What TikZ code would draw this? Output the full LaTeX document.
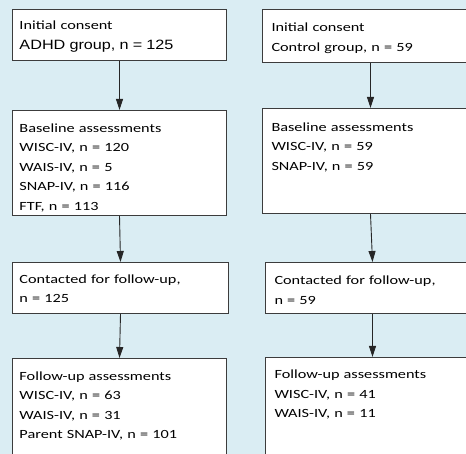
\documentclass[tikz,border=0pt]{standalone}
\usepackage{fontspec}
\setmainfont{Carlito}[FakeStretch=1.3]
\newfontfamily\arialfont{Liberation Sans}[FakeStretch=1.2]
\usetikzlibrary{arrows.meta}
\definecolor{fondoazul}{RGB}{218,237,243}
\definecolor{borde}{RGB}{60,60,60}

\begin{document}
\begin{tikzpicture}[
    x=1pt, y=-1pt,
    every node/.style={font=\fontsize{12.5}{19.5}\selectfont},
    etapa/.style={draw=borde, line width=1pt, fill=white, anchor=north west, align=left, inner ysep=0pt},
    izq/.style={etapa, inner xsep=7pt, text width=200pt},
    der/.style={etapa, inner xsep=9pt, text width=198pt},
    flecha/.style={-{Triangle[length=11pt, width=7pt]}, line width=0.9pt, black!85}
]
\useasboundingbox (0,0) rectangle (466,454);
\clip (0,0) rectangle (466,454);
\fill[fondoazul] (0,0) rectangle (466,454);
% Grupo ADHD
\node[izq, text height=20pt, text depth=31pt] (consentADHD) at (12,9) {Initial consent\\[1pt]{\arialfont\fontsize{13.5}{19.5}\selectfont ADHD group, n = 125}};
\node[izq, text height=22pt, text depth=83pt] (baseADHD) at (12,110) {Baseline assessments\\WISC-IV, n = 120\\WAIS-IV, n = 5\\SNAP-IV, n = 116\\FTF, n = 113};
\node[izq, text width=202pt, text height=21pt, text depth=30pt] (contactADHD) at (12,262) {Contacted for follow-up,\\n = 125};
\node[izq, text height=22pt, text depth=120pt] (followADHD) at (12,358) {Follow-up assessments\\WISC-IV, n = 63\\WAIS-IV, n = 31\\Parent SNAP-IV, n = 101};
% Grupo control
\node[der, text height=22.5pt, text depth=30.5pt] (consentCtrl) at (262,9) {Initial consent\\Control group, n = 59};
\node[der, text height=23pt, text depth=82pt] (baseCtrl) at (262,108) {Baseline assessments\\WISC-IV, n = 59\\SNAP-IV, n = 59};
\node[der, text width=196pt, text height=22.5pt, text depth=28.5pt] (contactCtrl) at (265,262) {Contacted for follow-up,\\n = 59};
\node[der, text width=196pt, text height=21pt, text depth=120pt] (followCtrl) at (265,357) {Follow-up assessments\\WISC-IV, n = 41\\WAIS-IV, n = 11};
% Flechas
\draw[flecha] (consentADHD.south) -- (baseADHD.north);
\draw[flecha] (baseADHD.south) -- (contactADHD.north);
\draw[flecha] (contactADHD.south) -- (followADHD.north);
\draw[flecha] (consentCtrl.south) -- (baseCtrl.north);
\draw[flecha] (baseCtrl.south) -- (contactCtrl.north);
\draw[flecha] (contactCtrl.south) -- (followCtrl.north);
\end{tikzpicture}
\end{document}
